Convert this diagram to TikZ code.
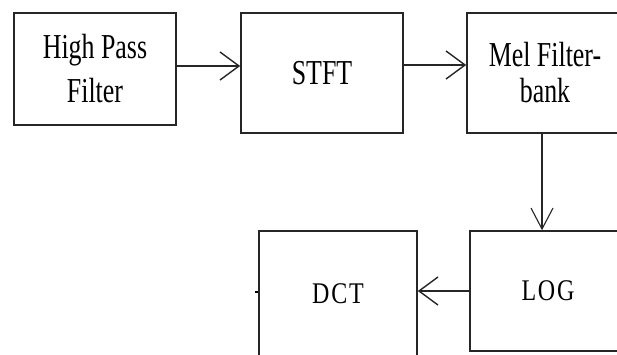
\documentclass[tikz,border=0pt]{standalone}
\usepackage{fontspec}
\setmainfont{Liberation Serif}
\newfontfamily\blockfont[FakeStretch=0.74]{Liberation Serif}
\newfontfamily\capsfont[FakeStretch=0.8,LetterSpace=6]{Liberation Serif}
\usepackage{tikz}
\usetikzlibrary{arrows.meta,positioning}
\tikzset{
 >={Straight Barb[length=19pt,width=28pt]},
 blk/.style={draw=black!85,line width=1.6pt,inner sep=0pt,align=center},
 flow/.style={->,line width=1.4pt,draw=black!85}
}

\begin{document}
\begin{tikzpicture}[x=1pt,y=-1pt]
\useasboundingbox (0,0) rectangle (617,354);
\clip (0,0) rectangle (617,354);

\path (95,69) node[blk,name=hpf,minimum width=162pt,minimum height=112pt,
  font=\blockfont\fontsize{35}{44}\selectfont] {High Pass\\Filter};
\path (322,73) node[blk,name=stft,minimum width=162pt,minimum height=120pt,
  font=\blockfont\fontsize{35}{44}\selectfont] {STFT};
\path (545,73) node[blk,name=mel,minimum width=156pt,minimum height=120pt,
  font=\blockfont\fontsize{35}{36}\selectfont] {Mel Filter-\\bank};
\path (548,291) node[blk,name=log,minimum width=156pt,minimum height=120pt,
  font=\capsfont\fontsize{30}{32}\selectfont] {LOG};
\path (338,294) node[blk,name=dct,minimum width=158pt,minimum height=126pt,
  font=\capsfont\fontsize{30}{32}\selectfont] {DCT};

\coordinate (stub) at ([xshift=-3pt,yshift=2pt]dct.west);

\draw[flow] ([yshift=3pt]hpf.east) -- ([yshift=3pt]hpf.east -| stft.west);
\draw[flow] ([yshift=8pt]stft.east) -- ([yshift=8pt]stft.east -| mel.west);
\draw[flow,line width=1.1pt,-{Straight Barb[length=21pt,width=22pt]}]
  ([xshift=-3pt]mel.south) -- ([xshift=-3pt]mel.south |- log.north);
\draw[flow] (log.west) -- (log.west -| dct.east);
\draw[line width=1.4pt] ([yshift=2pt]dct.west) -- (stub);
\end{tikzpicture}
\end{document}
